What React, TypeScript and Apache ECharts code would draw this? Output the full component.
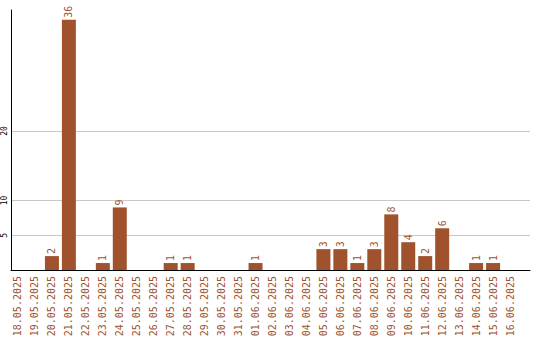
import React, { useEffect, useRef } from "react";
import * as echarts from "echarts";

const dates = [
  "18.05.2025", "19.05.2025", "20.05.2025", "21.05.2025", "22.05.2025",
  "23.05.2025", "24.05.2025", "25.05.2025", "26.05.2025", "27.05.2025",
  "28.05.2025", "29.05.2025", "30.05.2025", "31.05.2025", "01.06.2025",
  "02.06.2025", "03.06.2025", "04.06.2025", "05.06.2025", "06.06.2025",
  "07.06.2025", "08.06.2025", "09.06.2025", "10.06.2025", "11.06.2025",
  "12.06.2025", "13.06.2025", "14.06.2025", "15.06.2025", "16.06.2025",
];
const counts = [0, 0, 2, 36, 0, 1, 9, 0, 0, 1, 1, 0, 0, 0, 1, 0, 0, 0, 3, 3, 1, 3, 8, 4, 2, 6, 0, 1, 1, 0];
const yTicks = [5, 10, 20];

const BROWN = "#A0522D";
const FONT = "DejaVu Sans Mono";

export default function App() {
  const ref = useRef<HTMLDivElement>(null);
  useEffect(() => {
    if (!ref.current) return;
    const chart = echarts.init(ref.current, null, { renderer: "svg" });
    const data = counts
      .map((v, i) => [i, v])
      .filter((d) => d[1] > 0);
    chart.setOption({
      animation: false,
      grid: { left: 10, right: 10, top: 10, bottom: 70, containLabel: false },
      xAxis: {
        type: "value",
        min: -0.412,
        max: 30.176,
        splitLine: { show: false },
        axisLine: { show: true, onZero: false, lineStyle: { color: "#000", width: 1 } },
        axisTick: { show: false, customValues: dates.map((_, i) => i) },
        axisLabel: {
          customValues: dates.map((_, i) => i),
          formatter: (v: number) => dates[Math.round(v)] ?? "",
          rotate: 90,
          color: BROWN,
          fontFamily: FONT,
          fontSize: 10,
          margin: 6,
        },
      },
      yAxis: {
        type: "value",
        min: 0,
        max: 37.4,
        axisLine: { show: true, onZero: false, lineStyle: { color: "#000", width: 1 } },
        axisTick: { show: false, customValues: yTicks },
        splitLine: { show: true, lineStyle: { color: "#c8c8c8", width: 1 } },
        axisLabel: {
          customValues: yTicks,
          rotate: 90,
          color: "#000",
          fontFamily: FONT,
          fontSize: 8,
          margin: 3,
        },
      },
      series: [
        {
          type: "bar",
          data,
          barWidth: 14,
          itemStyle: { color: BROWN },
          label: {
            show: true,
            position: "top",
            rotate: 90,
            align: "left",
            verticalAlign: "middle",
            distance: 2,
            color: BROWN,
            fontFamily: FONT,
            fontSize: 10,
            formatter: (p: any) => String(p.value[1]),
          },
        },
      ],
    });
    return () => chart.dispose();
  }, []);
  return (
    <div
      ref={ref}
      style={{ position: "fixed", left: 0, top: 0, width: 540, height: 340, background: "#fff" }}
    />
  );
}
